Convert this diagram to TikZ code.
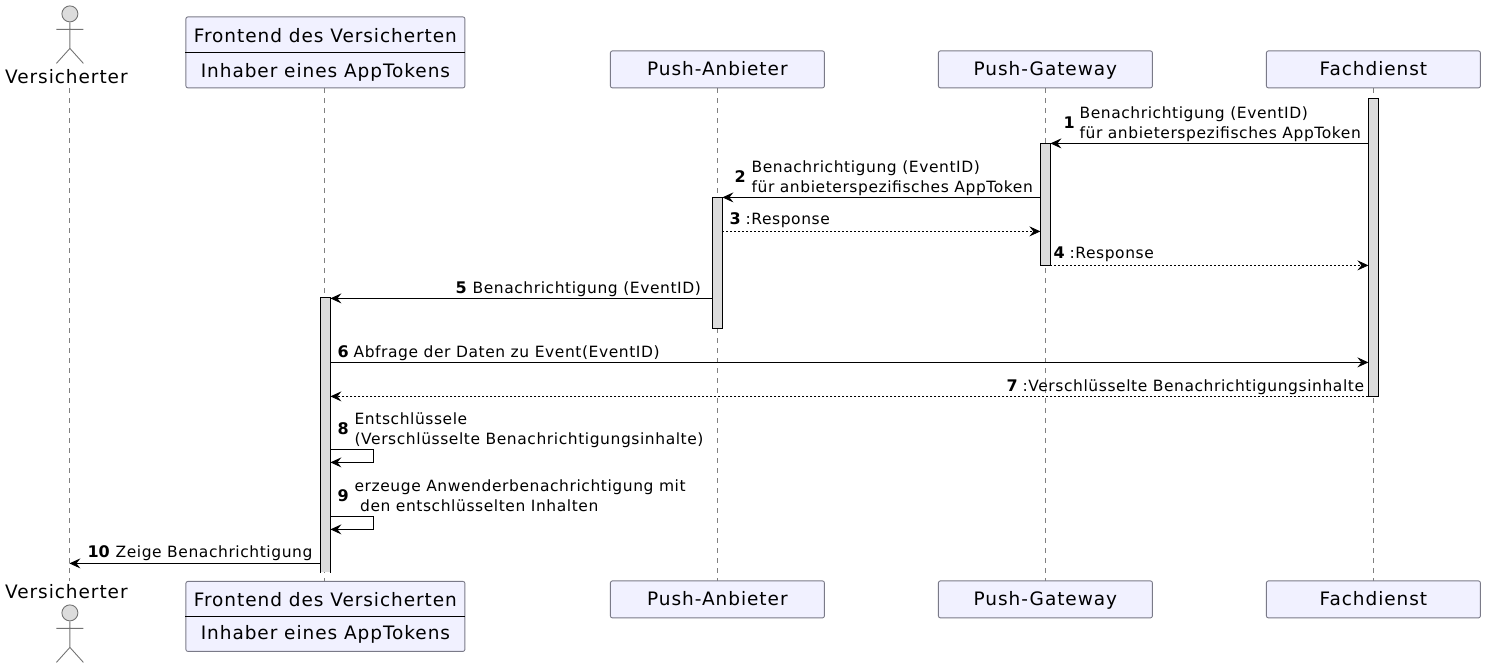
\documentclass[tikz,border=0pt]{standalone}
\usepackage{fontspec}
\setmainfont{DejaVu Sans}
\newfontfamily\partfont[LetterSpace=5.1]{DejaVu Sans}
\newfontfamily\msgfont[LetterSpace=3.7]{DejaVu Sans}
\usetikzlibrary{arrows.meta}
\definecolor{boxfill}{HTML}{F1F1FF}
\definecolor{boxline}{HTML}{7A7A88}
\definecolor{barfill}{HTML}{DCDCDC}
\tikzset{>={Stealth[length=11pt,width=10pt,inset=4pt]}}
\tikzset{
  partbox/.style={draw=boxline, fill=boxfill, rounded corners=2pt, line width=0.9pt, inner sep=0pt},
  parttext/.style={anchor=base, inner sep=0pt, font=\partfont\fontsize{18.5}{20}\selectfont},
  actbar/.style={draw=black, fill=barfill, line width=1pt, minimum width=9.6pt, inner sep=0pt},
  msgnum/.style={anchor=base west, inner sep=0pt, yshift=-0.6pt, font=\fontsize{16}{20}\selectfont\bfseries},
  msgtext/.style={anchor=base west, inner sep=0pt, yshift=-0.6pt, align=left, font=\msgfont\fontsize{15.5}{20}\selectfont},
  lifeline/.style={draw=gray, line width=0.8pt, dash pattern=on 5pt off 5pt},
  msg/.style={draw=black, line width=0.9pt, ->},
  reply/.style={draw=black, line width=0.8pt, dash pattern=on 2pt off 2pt, ->},
  stick/.style={draw=gray!90!black, line width=0.9pt}
}
\begin{document}
\begin{tikzpicture}[x=1pt, y=-1pt]
  \useasboundingbox (0,0) rectangle (1485,668);

  \begin{scope}[shift={(0.4,0.4)}]
  % lifelines
  \coordinate (vTop) at (69,88);
  \coordinate (vBot) at (69,581);
  \coordinate (fTop) at (324,88);
  \coordinate (fBot) at (324,581);
  \coordinate (pTop) at (717,88);
  \coordinate (pBot) at (717,581);
  \coordinate (gTop) at (1045,88);
  \coordinate (gBot) at (1045,581);
  \coordinate (dTop) at (1373,88);
  \coordinate (dBot) at (1373,581);
  \draw[lifeline] (vTop) -- (vBot);
  \draw[lifeline] (fTop) -- (fBot);
  \draw[lifeline] (pTop) -- (pBot);
  \draw[lifeline] (gTop) -- (gBot);
  \draw[lifeline] (dTop) -- (dBot);

  % actor top
  \node[stick, fill=barfill, circle, minimum size=16pt, inner sep=0pt] (headA) at (69.5,13.5) {};
  \draw[stick] (headA.south) -- (69.5,48) (56,29) -- (83,29) (56,63) -- (69.5,48) -- (83,63);
  \node[parttext] (versA) at (66,83.5) {Versicherter};

  % actor bottom
  \node[parttext] (versB) at (66,598.5) {Versicherter};
  \node[stick, fill=barfill, circle, minimum size=16pt, inner sep=0pt] (headB) at (69.5,612.5) {};
  \draw[stick] (headB.south) -- (69.5,647) (56,628) -- (83,628) (56,662) -- (69.5,647) -- (83,662);

  % top boxes
  \node[partbox, minimum width=279pt, minimum height=71pt] (frontA) at (325,52) {};
  \draw[black, line width=0.9pt] (frontA.west) -- (frontA.east);
  \node[parttext] (frontAa) at (325,42) {Frontend des Versicherten};
  \node[parttext] (frontAb) at (325,77) {Inhaber eines AppTokens};
  \node[partbox, minimum width=214pt, minimum height=37pt] (pushA) at (717,69) {};
  \node[parttext] (pushAt) at (717,75) {Push-Anbieter};
  \node[partbox, minimum width=214pt, minimum height=37pt] (gateA) at (1045,69) {};
  \node[parttext] (gateAt) at (1045,75) {Push-Gateway};
  \node[partbox, minimum width=214pt, minimum height=37pt] (fachA) at (1373,69) {};
  \node[parttext] (fachAt) at (1373,75) {Fachdienst};

  % bottom boxes
  \node[partbox, minimum width=279pt, minimum height=70pt] (frontB) at (325,616) {};
  \draw[black, line width=0.9pt] (frontB.west) -- (frontB.east);
  \node[parttext] (frontBa) at (325,606) {Frontend des Versicherten};
  \node[parttext] (frontBb) at (325,639) {Inhaber eines AppTokens};
  \node[partbox, minimum width=214pt, minimum height=37pt] (pushB) at (717,599) {};
  \node[parttext] (pushBt) at (717,605) {Push-Anbieter};
  \node[partbox, minimum width=214pt, minimum height=37pt] (gateB) at (1045,599) {};
  \node[parttext] (gateBt) at (1045,605) {Push-Gateway};
  \node[partbox, minimum width=214pt, minimum height=37pt] (fachB) at (1373,599) {};
  \node[parttext] (fachBt) at (1373,605) {Fachdienst};

  % activation bars
  \node[actbar, minimum height=298pt] (barFach) at (1373,247) {};
  \node[actbar, minimum height=122pt] (barGate) at (1045,204) {};
  \node[actbar, minimum height=131pt] (barPush) at (717,262.5) {};
  \node[actbar, draw=none, minimum height=274pt] (barFront) at (325,435) {};
  \draw[black, line width=1pt] (barFront.south west) -- (barFront.north west) -- (barFront.north east) -- (barFront.south east);

  % message ends
  \coordinate (m1a) at (1368,143);
  \coordinate (m1b) at (1050,143);
  \coordinate (m2a) at (1040,197);
  \coordinate (m2b) at (722,197);
  \coordinate (m3a) at (722,231);
  \coordinate (m3b) at (1040,231);
  \coordinate (m4a) at (1050,265);
  \coordinate (m4b) at (1368,265);
  \coordinate (m5a) at (712,298);
  \coordinate (m5b) at (330,298);
  \coordinate (m6a) at (330,362);
  \coordinate (m6b) at (1368,362);
  \coordinate (m7a) at (1368,396);
  \coordinate (m7b) at (330,396);
  \coordinate (m8a) at (330,449);
  \coordinate (m8c) at (373,449);
  \coordinate (m8d) at (373,462);
  \coordinate (m8b) at (330,462);
  \coordinate (m9a) at (330,516);
  \coordinate (m9c) at (373,516);
  \coordinate (m9d) at (373,529);
  \coordinate (m9b) at (330,529);
  \coordinate (m10a) at (320,563);
  \coordinate (m10b) at (69,563);

  \draw[msg] (m1a) -- (m1b);
  \draw[msg] (m2a) -- (m2b);
  \draw[reply] (m3a) -- (m3b);
  \draw[reply] (m4a) -- (m4b);
  \draw[msg] (m5a) -- (m5b);
  \draw[msg] (m6a) -- (m6b);
  \draw[reply] (m7a) -- (m7b);
  \draw[msg] (m8a) -- (m8c) -- (m8d) -- (m8b);
  \draw[msg] (m9a) -- (m9c) -- (m9d) -- (m9b);
  \draw[msg] (m10a) -- (m10b);

  % message labels
  \node[msgnum] (n1) at (1063,128) {1};
  \node[msgtext] (t1) at (1079,138) {Benachrichtigung (EventID)\\für anbieterspezifisches AppToken};
  \node[msgnum] (n2) at (734,182) {2};
  \node[msgtext] (t2) at (751,192) {Benachrichtigung (EventID)\\für anbieterspezifisches AppToken};
  \node[msgnum] (n3) at (729,224) {3};
  \node[msgtext] (t3) at (745,224) {:Response};
  \node[msgnum] (n4) at (1053,258) {4};
  \node[msgtext] (t4) at (1069,258) {:Response};
  \node[msgnum] (n5) at (455,292) {5};
  \node[msgtext] (t5) at (472,292) {Benachrichtigung (EventID)};
  \node[msgnum] (n6) at (337,356) {6};
  \node[msgtext] (t6) at (353,356) {Abfrage der Daten zu Event(EventID)};
  \node[msgnum] (n7) at (1006,390) {7};
  \node[msgtext] (t7) at (1022,390) {:Verschlüsselte Benachrichtigungsinhalte};
  \node[msgnum] (n8) at (337,433) {8};
  \node[msgtext] (t8) at (354,443) {Entschlüssele\\(Verschlüsselte Benachrichtigungsinhalte)};
  \node[msgnum] (n9) at (337,500) {9};
  \node[msgtext] (t9) at (354,510) {erzeuge Anwenderbenachrichtigung mit\\\ den entschlüsselten Inhalten};
  \node[msgnum] (n10) at (87,556) {10};
  \node[msgtext] (t10) at (115,556) {Zeige Benachrichtigung};
  \end{scope}

\end{tikzpicture}
\end{document}
